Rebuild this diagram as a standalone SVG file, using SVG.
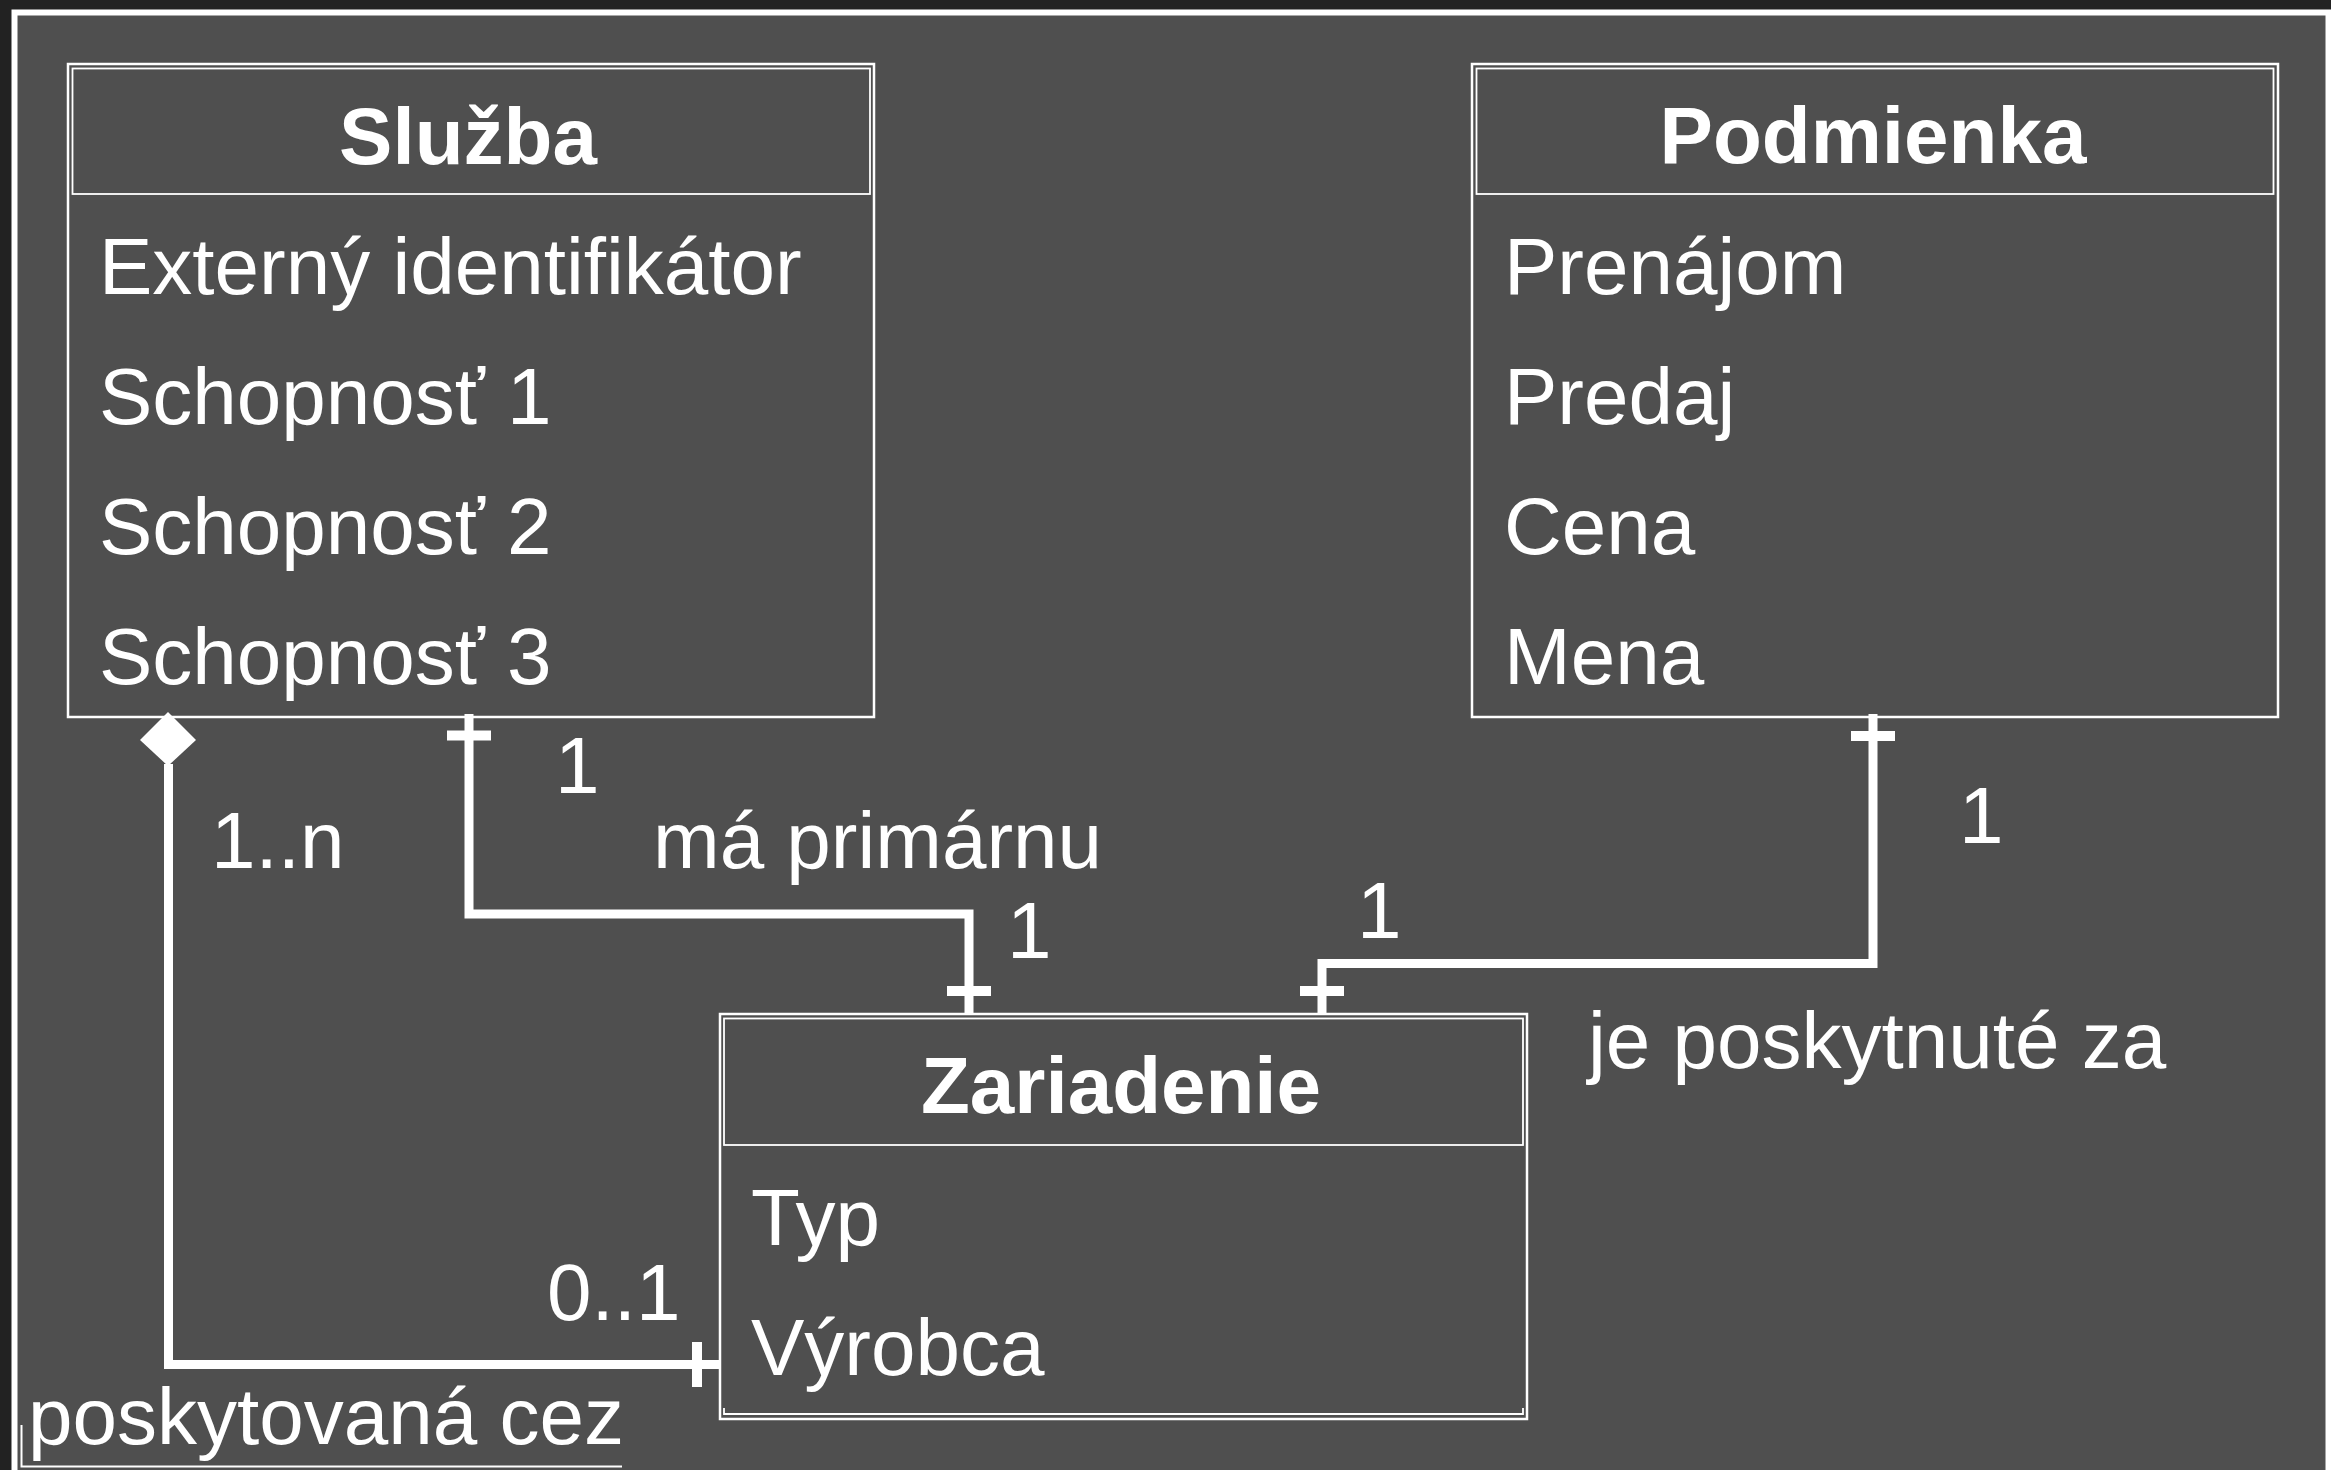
<svg xmlns="http://www.w3.org/2000/svg" width="2331" height="1470" viewBox="0 0 2331 1470">
  <defs>
    <style>
      .box { fill: none; stroke: #ffffff; stroke-width: 2.5; }
      .inner { fill: none; stroke: #ffffff; stroke-width: 1.8; }
      .title { font-family: "Liberation Sans", Arial, Helvetica, sans-serif; font-weight: bold; font-size: 80px; fill: #ffffff; text-anchor: middle; }
      .attr { font-family: "Liberation Sans", Arial, Helvetica, sans-serif; font-size: 80px; fill: #ffffff; }
      .lbl { font-family: "Liberation Sans", Arial, Helvetica, sans-serif; font-size: 80px; fill: #ffffff; }
      .conn { fill: none; stroke: #ffffff; stroke-width: 9; stroke-linejoin: miter; stroke-linecap: butt; }
      .tick { fill: none; stroke: #ffffff; stroke-width: 10; }
    </style>
  </defs>

  <rect x="0" y="0" width="2331" height="1470" fill="#222222"/>
  <rect x="14.5" y="12.5" width="2314" height="1480" fill="#4f4f4f" stroke="#ffffff" stroke-width="6"/>

  <g id="node-sluzba">
    <rect class="box" x="68" y="64" width="806" height="653"/>
    <rect class="inner" x="72.5" y="68.5" width="797.5" height="125.5"/>
    <text class="title" x="468" y="164">Služba</text>
    <text class="attr" x="99" y="294">Externý identifikátor</text>
    <text class="attr" x="99" y="424">Schopnosť 1</text>
    <text class="attr" x="99" y="554">Schopnosť 2</text>
    <text class="attr" x="99" y="684">Schopnosť 3</text>
  </g>

  <g id="node-podmienka">
    <rect class="box" x="1472" y="64" width="806" height="653"/>
    <rect class="inner" x="1476.5" y="68.5" width="797" height="125.5"/>
    <text class="title" x="1873" y="163">Podmienka</text>
    <text class="attr" x="1504" y="294">Prenájom</text>
    <text class="attr" x="1504" y="424">Predaj</text>
    <text class="attr" x="1504" y="554">Cena</text>
    <text class="attr" x="1504" y="684">Mena</text>
  </g>

  <g id="node-zariadenie">
    <rect class="box" x="720" y="1014" width="807" height="405"/>
    <rect class="inner" x="724" y="1018.5" width="799" height="126.5"/>
    <polyline class="inner" points="724,1408 724,1414 1523,1414 1523,1408"/>
    <text class="title" x="1121" y="1113">Zariadenie</text>
    <text class="attr" x="751" y="1245">Typ</text>
    <text class="attr" x="751" y="1375">Výrobca</text>
  </g>

  <g id="connectors">
    <!-- Služba (aggregation) -> Zariadenie : poskytovaná cez -->
    <polygon points="168,712 196,740 168,766 140,740" fill="#ffffff"/>
    <polyline class="conn" points="168.5,764 168.5,1364.5 720,1364.5"/>
    <line class="tick" x1="697" y1="1342" x2="697" y2="1387"/>

    <!-- Služba -> Zariadenie : má primárnu -->
    <polyline class="conn" points="469,714 469,914 969,914 969,1014"/>
    <line class="tick" x1="447" y1="735.5" x2="491" y2="735.5"/>
    <line class="tick" x1="947" y1="991" x2="991" y2="991"/>

    <!-- Podmienka -> Zariadenie : je poskytnuté za -->
    <polyline class="conn" points="1873,714 1873,963.5 1322,963.5 1322,1014"/>
    <line class="tick" x1="1851" y1="736" x2="1895" y2="736"/>
    <line class="tick" x1="1300" y1="991" x2="1344" y2="991"/>
  </g>

  <g id="labels">
    <text class="lbl" x="555" y="793">1</text>
    <text class="lbl" x="211" y="868">1..n</text>
    <text class="lbl" x="653" y="868">má primárnu</text>
    <text class="lbl" x="1007" y="958">1</text>
    <text class="lbl" x="1357" y="938">1</text>
    <text class="lbl" x="1959" y="843">1</text>
    <text class="lbl" x="1588" y="1068">je poskytnuté za</text>
    <text class="lbl" x="547" y="1320">0..1</text>
    <polyline fill="none" stroke="#ffffff" stroke-width="2" points="21.5,1425 21.5,1466.5 622,1466.5"/>
    <text class="lbl" x="28" y="1444">poskytovaná cez</text>
  </g>
</svg>
